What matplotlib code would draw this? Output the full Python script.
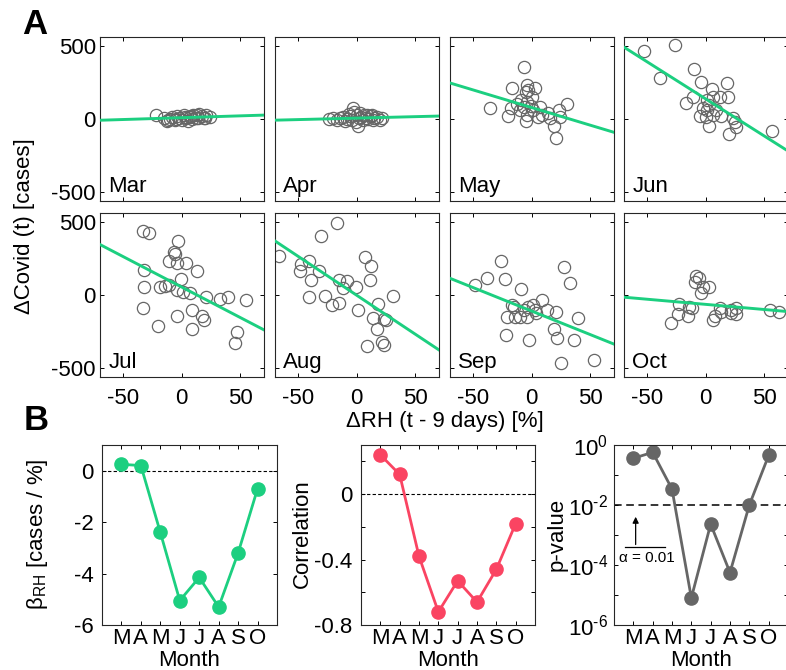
import matplotlib.pyplot as plt
import numpy as np
from matplotlib.ticker import LogLocator, NullFormatter

plt.rcParams['font.family'] = ['Liberation Sans', 'DejaVu Sans']
plt.rcParams['mathtext.fontset'] = 'custom'
plt.rcParams['mathtext.rm'] = 'Liberation Sans'
plt.rcParams['mathtext.it'] = 'Liberation Sans:italic'
plt.rcParams['axes.unicode_minus'] = False
plt.rcParams['font.size'] = 16

# ---- data ----
months = ['Mar', 'Apr', 'May', 'Jun', 'Jul', 'Aug', 'Sep', 'Oct']
month_ticks = ['M', 'A', 'M', 'J', 'J', 'A', 'S', 'O']

rh_mar = [-22, -15, -13, -12, -10, -8, -6, -5, -4, -2, 0, 2, 3, 4, 5, 7, 8, 9, 10, 12, 13, 14, 15, 17, 19, 20, 21, 24]
cov_mar = [28, 5, -15, -10, 2, 15, -5, -3, 20, 10, -8, 25, 12, 5, -12, 15, 22, 0, 30, 8, 30, 5, 35, 20, 10, 5, 25, 15]
rh_apr = [-24, -20, -17, -14, -12, -10, -8, -7, -6, -4, -3, -2, -1, 0, 1, 2, 3, 4, 5, 6, 8, 9, 10, 12, 13, 14, 15, 17, 20, 22]
cov_apr = [0, 10, -5, 5, 15, -15, 0, 35, 20, -10, 74, 50, -20, 30, -45, 5, 40, 15, -5, 25, 10, 30, 0, 20, 25, -10, 5, 15, -5, 10]
rh_may = [-7, -17, -4, 3, -5, -36, -20, -18, -13, -9, -4, -7, -1, -4, -5, 1, 7, 5, 9, 14, 16, 19, 21, 24, 23, 30, -10, 0, -3]
cov_may = [355, 210, 233, 210, 187, 78, 23, 73, 103, 130, 119, 85, 89, 27, -11, 62, 85, 16, 27, 39, 5, -48, -132, 16, 62, 103, 62, 153, 199]
rh_jun = [-53, -26, -39, -10, -4, 18, -17, -11, 5, 6, 12, 19, 1, 3, 9, -5, 0, 6, 3, 13, 23, 26, 20, 25, 57, 1, -2]
cov_jun = [461, 502, 279, 342, 256, 244, 112, 153, 203, 153, 153, 153, 130, 96, 62, 21, 16, 27, -48, 21, 5, -53, -103, -18, -82, 62, 73]
rh_jul = [-33, -28, -32, -32, -33, -20, -11, -7, -3, -4, 4, -1, -19, -14, -11, -4, 1, 7, -4, 9, 9, 13, 17, 19, 21, 33, 40, 55, 47, 46, -6]
cov_jul = [435, 426, 174, 53, -88, -214, 233, 291, 372, 221, 221, 109, 53, 63, 70, 35, 23, 12, -140, -105, -233, 163, -140, -174, -16, -30, -16, -35, -256, -326, 280]
rh_aug = [-67, -49, -41, -48, -31, -17, -39, -41, -27, -21, -15, -32, -15, -12, -8, -1, 1, 7, 12, 11, 18, 14, 17, 23, 25, 9, 22, 23, 31]
cov_aug = [267, 163, 233, 209, 402, 495, 100, -12, -7, -70, -58, 163, 100, 47, 93, 58, -105, 260, 198, 105, -63, -156, -233, -163, -174, -349, -319, -342, -5]
rh_sep = [-49, -38, -26, -23, -9, -22, -2, -17, -21, -14, -10, -15, -7, -3, -4, 1, 4, 3, 9, 13, 21, 19, 22, 25, 28, 33, 36, 40, 53]
cov_sep = [69, 114, 235, 107, 41, -274, -309, -69, -149, -149, -149, -80, -103, -80, -149, -69, -126, -103, -34, -103, -114, -229, -297, -462, 194, 85, -304, -160, -446]
rh_oct = [-8, -6, -9, -2, 3, -4, -23, -14, -15, -24, -30, -12, 6, 8, 12, 13, 22, 26, 26, 55, 63, 22]
cov_oct = [130, 114, 91, 57, 57, 11, -62, -80, -144, -130, -190, -91, -171, -144, -91, -114, -126, -91, -130, -103, -114, -103]

rh_all = [rh_mar, rh_apr, rh_may, rh_jun, rh_jul, rh_aug, rh_sep, rh_oct]
cov_all = [cov_mar, cov_apr, cov_may, cov_jun, cov_jul, cov_aug, cov_sep, cov_oct]

# regression per month (slope = beta_RH)
beta = [0.25, 0.2, -2.4, -5.05, -4.15, -5.3, -3.2, -0.7]
intercept = [9, 6, 78, 137, 54, -2, -110, -64]
corr = [0.24, 0.12, -0.38, -0.72, -0.53, -0.66, -0.46, -0.18]
pval = [0.36, 0.57, 0.034, 8e-6, 0.0023, 5.6e-5, 0.01, 0.45]

green = '#1ccf80'
red = '#fa4462'
gray = '#666666'
W, H = 786, 670

fig = plt.figure(figsize=(W / 100, H / 100), dpi=100)


def px_axes(l, t, r, b):
    return fig.add_axes([l / W, 1 - b / H, (r - l) / W, (b - t) / H])


def style(ax):
    for s in ax.spines.values():
        s.set_linewidth(0.8)
        s.set_color('#262626')
    ax.tick_params(direction='in', top=True, right=True, length=3.2, width=0.7,
                   which='both', labelsize=16)


# ---- panel A ----
lefts = [100, 275, 450, 624]
tops = [37, 213]
xx = np.array([-70, 70])
for i in range(8):
    r, c = divmod(i, 4)
    ax = px_axes(lefts[c], tops[r], lefts[c] + 163.5, tops[r] + 164)
    ax.plot(rh_all[i], cov_all[i], 'o', mfc='none', mec=gray, ms=8.8, mew=0.9, zorder=2)
    ax.plot(xx, intercept[i] + beta[i] * xx, color=green, lw=2.1, zorder=3)
    ax.set_xlim(-70, 70)
    ax.set_ylim(-560, 560)
    ax.set_xticks([-50, 0, 50])
    ax.set_yticks([-500, 0, 500])
    style(ax)
    ax.tick_params(axis='x', pad=8)
    ax.tick_params(axis='y', pad=3)
    if r == 0:
        ax.set_xticklabels([])
    if c != 0:
        ax.set_yticklabels([])
    ax.text(0.05, 0.055, months[i], transform=ax.transAxes, ha='left', va='baseline', fontsize=16)

fig.text(25 / W, 1 - 226 / H, 'ΔCovid (t) [cases]', rotation=90, ha='center', va='center', fontsize=16)
fig.text(445 / W, 1 - 427 / H, 'ΔRH (t - 9 days) [%]', ha='center', va='baseline', fontsize=16)
fig.text(35 / W, 1 - 25 / H, 'A', ha='center', va='center', fontsize=25, fontweight='bold')
fig.text(36 / W, 1 - 421 / H, 'B', ha='center', va='center', fontsize=25, fontweight='bold')

# ---- panel B ----
x = np.arange(1, 9)

ax1 = px_axes(102, 445, 277, 625)
ax1.axhline(0, color='k', lw=0.8, ls=(0, (3, 2)))
ax1.plot(x, beta, '-o', color=green, lw=2, ms=9.5)
ax1.set_ylim(-6, 1)
ax1.set_yticks([-6, -4, -2, 0])

ax2 = px_axes(361, 445, 535, 625)
ax2.axhline(0, color='k', lw=0.8, ls=(0, (3, 2)))
ax2.plot(x, corr, '-o', color=red, lw=2, ms=9.5)
ax2.set_ylim(-0.8, 0.3)
ax2.set_yticks([-0.8, -0.6, -0.4, -0.2, 0, 0.2])
ax2.set_yticklabels(['-0.8', '', '-0.4', '', '0', ''])

ax3 = px_axes(614, 445, 788, 625)
ax3.axhline(0.01, color='k', lw=1.1, ls=(0, (5, 3)))
ax3.plot(x, pval, '-o', color=gray, lw=2, ms=9.5)
ax3.set_yscale('log')
ax3.set_ylim(1e-6, 1)
ax3.set_yticks([1e-6, 1e-5, 1e-4, 1e-3, 1e-2, 1e-1, 1])
ax3.set_yticklabels([r'$\mathregular{10^{\text{-}6}}$', '', r'$\mathregular{10^{\text{-}4}}$', '',
                     r'$\mathregular{10^{\text{-}2}}$', '', r'$\mathregular{10^{0}}$'])
ax3.yaxis.set_minor_locator(LogLocator(base=10, subs=np.arange(2, 10)))
ax3.yaxis.set_minor_formatter(NullFormatter())
ax3.annotate('', xy=(1.12, 10 ** -2.3), xytext=(1.12, 10 ** -3.41),
             arrowprops=dict(arrowstyle='-|>', color='k', lw=0.9, mutation_scale=9))
ax3.plot([0.57, 2.64], [10 ** -3.41, 10 ** -3.41], color='k', lw=0.9)
ax3.text(1.68, 10 ** -3.78, 'α = 0.01', ha='center', va='center', fontsize=11)

for ax, lab, xc in [(ax1, 'β$_{\\mathregular{RH}}$ [cases / %]', 37.5),
                    (ax2, 'Correlation', 302.5), (ax3, 'p-value', 557)]:
    ax.set_xlim(0, 9)
    ax.set_xticks(x)
    ax.set_xticklabels(month_ticks)
    style(ax)
    ax.tick_params(axis='x', pad=2)
    ax.tick_params(axis='y', pad=6)
    ax.tick_params(axis='y', which='minor', length=1.8)
    fig.text(xc / W, 1 - 534 / H, lab, rotation=90, ha='center', va='center', fontsize=16)
    pos = ax.get_position()
    fig.text(pos.x0 + pos.width / 2, 4 / H, 'Month', ha='center', va='baseline', fontsize=16)
ax3.tick_params(axis='y', pad=4)

fig.savefig('out.png', dpi=100)
